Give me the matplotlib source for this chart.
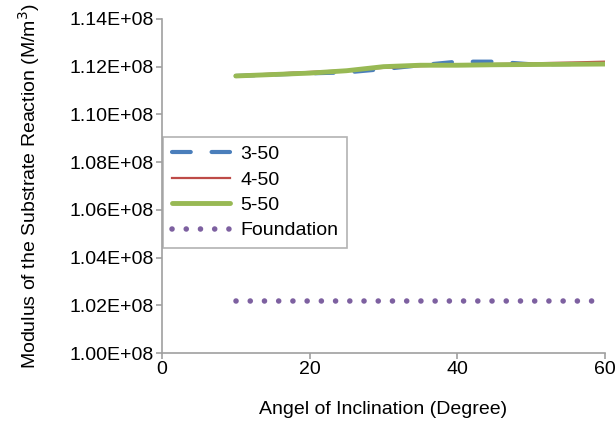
import numpy as np
import matplotlib.pyplot as plt
from matplotlib.ticker import FuncFormatter

plt.rcParams['font.family'] = ['Liberation Sans', 'DejaVu Sans']

# angle of inclination (degree)
angle = [10, 15, 20, 25, 30, 35, 40, 45, 50, 55, 60]
# modulus of substrate reaction
k_3_50 = [1.1161e8, 1.1167e8, 1.1172e8, 1.1176e8, 1.1190e8, 1.1206e8, 1.1221e8, 1.1221e8, 1.1210e8, 1.1211e8, 1.1212e8]
k_4_50 = [1.1163e8, 1.1171e8, 1.1178e8, 1.1185e8, 1.1195e8, 1.1202e8, 1.1207e8, 1.1211e8, 1.1214e8, 1.1217e8, 1.1221e8]
k_5_50 = [1.1161e8, 1.1167e8, 1.1173e8, 1.1183e8, 1.1200e8, 1.1206e8, 1.1206e8, 1.1208e8, 1.1209e8, 1.1210e8, 1.1211e8]
k_found = [1.0216e8] * len(angle)

fs = 14

fig = plt.figure(figsize=(6.16, 4.21), dpi=100)
ax = fig.add_axes([0.263, 0.1615, 0.719, 0.7935])

ax.plot(angle, k_3_50, color='#4A7EBB', lw=3, linestyle=(0, (4.5, 5)),
        dash_capstyle='round', label='3-50')
ax.plot(angle, k_4_50, color='#BE4B48', lw=1.6, label='4-50')
ax.plot(angle, k_5_50, color='#98B954', lw=3.5, solid_capstyle='round', label='5-50')
ax.plot(angle, k_found, color='#7D60A0', lw=4, linestyle=(0, (0.01, 2.55)),
        dash_capstyle='round', label='Foundation')

ax.set_xlim(0, 60)
ax.set_ylim(1.00e8, 1.14e8)
ax.set_xticks([0, 20, 40, 60])
ax.set_yticks(np.arange(1.00e8, 1.141e8, 0.02e8))
ax.yaxis.set_major_formatter(FuncFormatter(lambda v, p: f"{v/1e8:.2f}E+08"))

for s in ['top', 'right']:
    ax.spines[s].set_visible(False)
for s in ['left', 'bottom']:
    ax.spines[s].set_color('#A0A0A0')
    ax.spines[s].set_linewidth(1.2)
ax.tick_params(direction='out', length=4, width=1.2, color='#A0A0A0',
               labelsize=fs, pad=2)

ax.set_xlabel('Angel of Inclination (Degree)', fontsize=fs, labelpad=16)
ax.set_ylabel('Modulus of the Substrate Reaction (M/m$^3$)', fontsize=fs, labelpad=20)

leg = ax.legend(loc='lower left', bbox_to_anchor=(0.003, 0.314), fontsize=fs,
                handlelength=3.0, frameon=True, fancybox=False,
                borderpad=0.45, labelspacing=0.4, handletextpad=0.5,
                borderaxespad=0.0)
leg.get_frame().set_edgecolor('#A0A0A0')
leg.get_frame().set_linewidth(1.2)

fig.savefig('out.png', dpi=100)
